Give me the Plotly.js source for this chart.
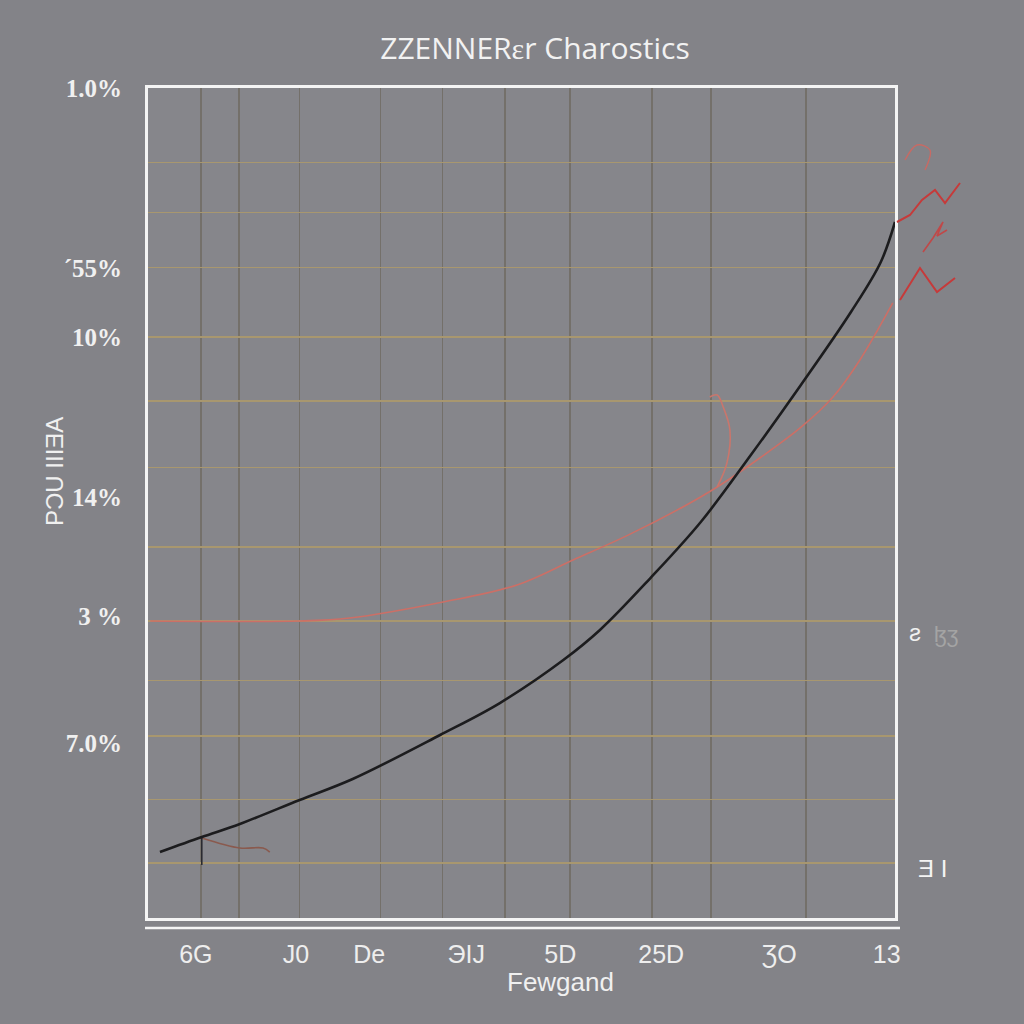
<!DOCTYPE html>
<html>
<head>
<meta charset="utf-8">
<script src="https://cdn.plot.ly/plotly-3.0.1.min.js"></script>
<style>html,body{margin:0;padding:0;background:#838388;}#chart{width:1024px;height:1024px;}</style>
</head>
<body>
<div id="chart"></div>
<script>
// Grid positions (axis units 0-100)
const xGrid = [7.1, 12.2, 20.3, 31.1, 39.4, 47.8, 56.5, 67.5, 75.4, 88.1];
const yGrid = [6.6, 14.3, 21.9, 28.6, 35.8, 44.7, 54.3, 62.3, 70.0, 78.4, 85.0, 91.0];

// Tick labels
const xTickPos = [6.4, 19.8, 29.6, 42.6, 55.2, 68.7, 84.5, 98.9];
const xTickText = ["6G", "J0", "De", "ЭIJ", "5D", "25D", "ƷO", "13"];
const yTickPos = [100, 78.3, 70.0, 50.7, 36.3, 21.1];
const yTickText = ["1.0%", "´55%", "10%", "14%", "3 %", "7.0%"];

// Black curve
const blackX = [1.6, 7.2, 12.3, 20.3, 27.4, 39.1, 47.1, 55.6, 60.5, 67.2, 74.0, 80.7, 87.4, 94.1, 98.1, 100];
const blackY = [7.95, 9.76, 11.33, 14.22, 16.75, 22.05, 25.90, 31.08, 34.70, 40.90, 47.71, 55.78, 64.22, 73.01, 79.04, 83.86];

// Red curve
const redX = [0.3, 20.3, 27.0, 39.5, 49.4, 56.9, 64.2, 71.6, 76.2, 81.9, 87.3, 91.7, 95.3, 99.7];
const redY = [35.78, 35.78, 36.14, 38.07, 40.12, 43.13, 46.10, 49.52, 51.93, 55.42, 59.04, 62.77, 67.23, 74.10];

// Red loop branch
const loopX = [76.2, 77.5, 77.9, 77.0, 76.2, 75.2];
const loopY = [51.93, 54.82, 58.80, 61.57, 63.01, 62.77];

// Small brown hook
const hookX = [7.2, 12.3, 15.4, 16.3];
const hookY = [9.64, 8.43, 8.43, 7.95];

// Dark stub
const stubX = [7.2, 7.2];
const stubY = [9.64, 6.39];

// Red scribbles to the right of the frame (own small axes, units 0-80 by 0-200)
const zig1X = [2, 15, 27, 40, 50, 65];
const zig1Y = [88, 95, 110, 120, 107, 127];
const zig2X = [5, 25, 42, 60];
const zig2Y = [10, 42, 18, 32];
const zig3X = [28, 38, 48, 42, 52];
const zig3Y = [58, 72, 88, 74, 80];
const zig4X = [10, 22, 35, 30];
const zig4Y = [150, 165, 160, 140];

const traces = [
  {x: redX, y: redY, mode: 'lines', line: {color: '#cc6f66', width: 1.6, shape: 'spline', smoothing: 1}, hoverinfo: 'skip'},
  {x: loopX, y: loopY, mode: 'lines', line: {color: '#c9766c', width: 1.6, shape: 'spline'}, hoverinfo: 'skip'},
  {x: hookX, y: hookY, mode: 'lines', line: {color: '#8a5a4e', width: 1.6, shape: 'spline'}, hoverinfo: 'skip'},
  {x: stubX, y: stubY, mode: 'lines', line: {color: '#2a2a30', width: 1.6}, hoverinfo: 'skip'},
  {x: blackX, y: blackY, mode: 'lines', line: {color: '#1c1c1e', width: 2.6, shape: 'spline', smoothing: 1}, hoverinfo: 'skip'},
  {x: [null], y: [null], xaxis: 'x2', yaxis: 'y2', mode: 'lines', hoverinfo: 'skip'},
  {x: zig1X, y: zig1Y, xaxis: 'x3', yaxis: 'y3', mode: 'lines', line: {color: '#c63a3a', width: 2}, hoverinfo: 'skip'},
  {x: zig2X, y: zig2Y, xaxis: 'x3', yaxis: 'y3', mode: 'lines', line: {color: '#c63a3a', width: 2}, hoverinfo: 'skip'},
  {x: zig3X, y: zig3Y, xaxis: 'x3', yaxis: 'y3', mode: 'lines', line: {color: '#c04848', width: 1.6}, hoverinfo: 'skip'},
  {x: zig4X, y: zig4Y, xaxis: 'x3', yaxis: 'y3', mode: 'lines', line: {color: '#c86a64', width: 1.4, shape: 'spline'}, hoverinfo: 'skip'}
];

// pixel -> paper helpers (plot area spans x 148..1000, y 88..918)
const PX = p => (p - 148) / 852;
const PY = p => (918 - p) / 830;

const layout = {
  width: 1024, height: 1024,
  paper_bgcolor: '#838388',
  plot_bgcolor: 'rgba(0,0,0,0)',
  showlegend: false,
  margin: {l: 148, r: 24, t: 88, b: 106},
  title: {text: 'ZZENNERɛr Charostics', x: 535/1024, xanchor: 'center', y: 1 - 48/1024, yanchor: 'middle',
          font: {family: 'Open Sans', size: 30, color: '#f2f2f2'}},
  xaxis: {domain: [0, PX(895)], range: [0, 100], tickvals: xGrid, showticklabels: false, showgrid: true, gridcolor: '#74706a', gridwidth: 1.5,
          zeroline: false, showline: true, mirror: true, linecolor: '#f4f4f4', linewidth: 3, ticks: ''},
  yaxis: {range: [0, 100], tickvals: yGrid, showticklabels: false, showgrid: true, gridcolor: '#a8976f', gridwidth: 1.5,
          zeroline: false, showline: true, mirror: true, linecolor: '#f4f4f4', linewidth: 3, ticks: ''},
  xaxis2: {overlaying: 'x', anchor: 'y', side: 'bottom', range: [0, 100], tickvals: xTickPos, ticktext: xTickText,
           showgrid: false, zeroline: false, showline: false, ticks: 'outside', ticklen: 14, tickcolor: 'rgba(0,0,0,0)',
           tickfont: {family: 'Liberation Sans', size: 25, color: '#eeeeee'}},
  yaxis2: {overlaying: 'y', anchor: 'x', side: 'left', range: [0, 100], tickvals: yTickPos, ticktext: yTickText,
           showgrid: false, zeroline: false, showline: false, ticks: 'outside', ticklen: 20, tickcolor: 'rgba(0,0,0,0)',
           tickfont: {family: 'Liberation Serif', size: 25, color: '#f0f0f0', weight: 'bold'}},
  xaxis3: {domain: [PX(895), PX(975)], anchor: 'y3', range: [0, 80], visible: false, fixedrange: true},
  yaxis3: {domain: [PY(310), PY(110)], anchor: 'x3', range: [0, 200], visible: false, fixedrange: true},
  shapes: [
    {type: 'line', xref: 'paper', yref: 'paper', x0: PX(145), x1: PX(900), y0: PY(928), y1: PY(928),
     line: {color: '#f4f4f4', width: 2.5}},
    {type: 'rect', xref: 'paper', yref: 'paper', x0: PX(148), x1: PX(895), y0: PY(918), y1: PY(88),
     fillcolor: '#86868b', line: {width: 0}, layer: 'below'}
  ],
  annotations: [
    {text: 'Fewgand', xref: 'paper', yref: 'paper', x: PX(560), y: PY(982), xanchor: 'center', yanchor: 'middle',
     showarrow: false, font: {family: 'Liberation Sans', size: 26, color: '#f0f0f0'}},
    {text: 'PƆU IIIƎA', xref: 'paper', yref: 'paper', x: PX(55), y: PY(472), xanchor: 'center', yanchor: 'middle',
     textangle: -90, showarrow: false, font: {family: 'Liberation Sans', size: 24, color: '#f0f0f0'}},
    {text: 'Ǝ I', xref: 'paper', yref: 'paper', x: PX(932), y: PY(868), xanchor: 'center', yanchor: 'middle',
     showarrow: false, font: {family: 'Liberation Sans', size: 24, color: '#f4f4f4'}},
    {text: 'ƨ', xref: 'paper', yref: 'paper', x: PX(915), y: PY(632), xanchor: 'center', yanchor: 'middle',
     showarrow: false, font: {family: 'Liberation Sans', size: 24, color: '#f0f0f0'}},
    {text: 'ɮʒ', xref: 'paper', yref: 'paper', x: PX(946), y: PY(634), xanchor: 'center', yanchor: 'middle',
     showarrow: false, font: {family: 'Liberation Sans', size: 22, color: '#a4a4a4'}}
  ]
};

Plotly.newPlot('chart', traces, layout, {displayModeBar: false, staticPlot: true});
</script>
</body>
</html>
